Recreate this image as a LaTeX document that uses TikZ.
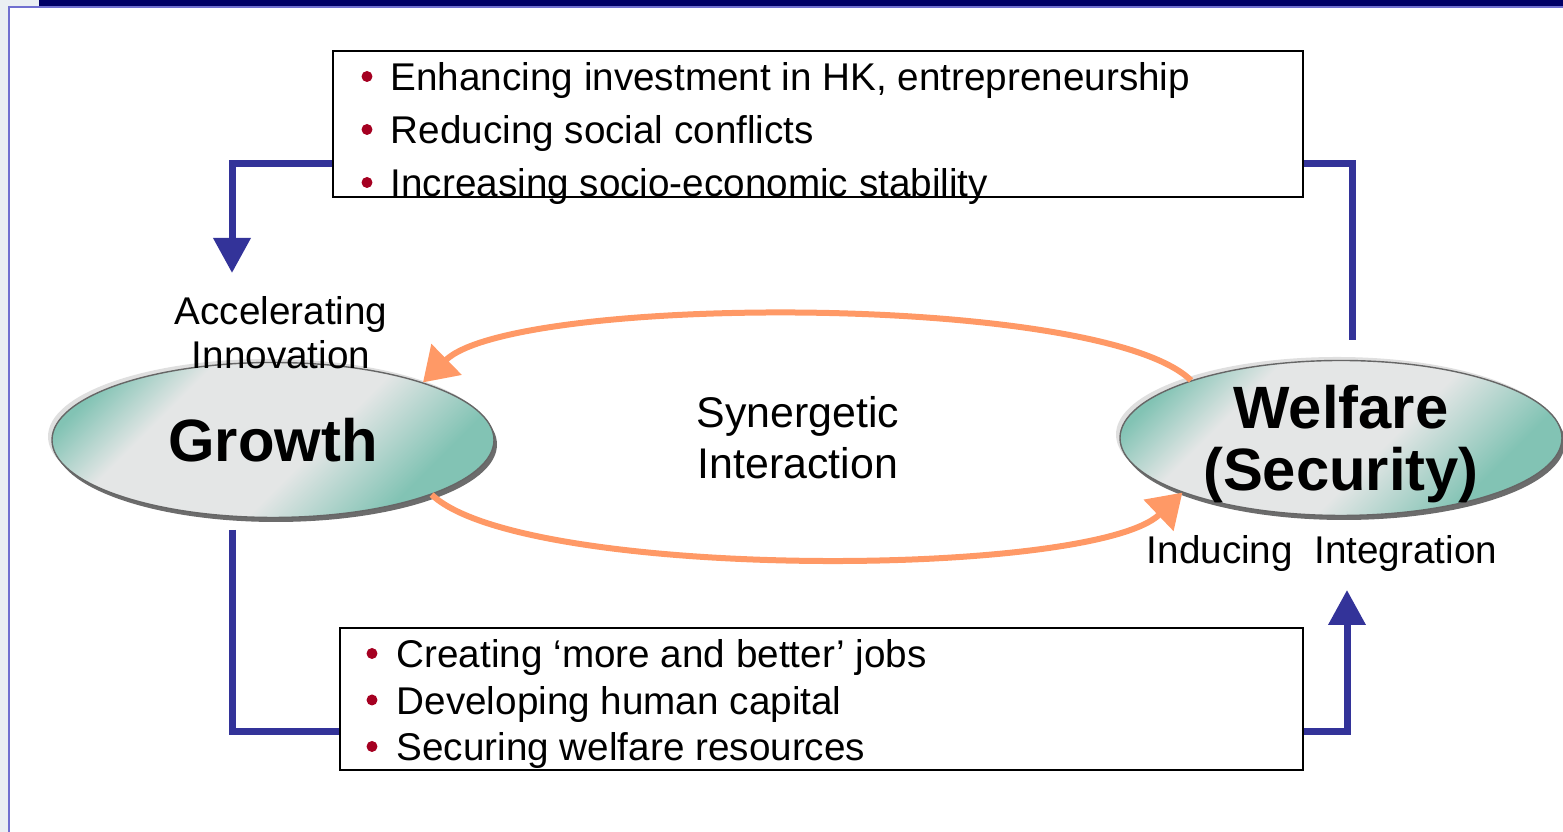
\documentclass[tikz,border=0pt]{standalone}
\usepackage{fontspec}
\setmainfont{Liberation Sans}
\usetikzlibrary{arrows.meta,shapes.geometric,shadows}

\definecolor{barnavy}{RGB}{0,0,102}
\definecolor{framelilac}{RGB}{112,112,208}
\definecolor{stripgray}{RGB}{234,239,243}
\definecolor{flowblue}{RGB}{51,51,153}
\definecolor{synorange}{RGB}{255,153,102}
\definecolor{bulletred}{RGB}{165,0,33}
\definecolor{ellteal}{RGB}{130,195,180}
\definecolor{ellgray}{RGB}{228,230,230}

\pgfdeclareverticalshading{glassy}{100bp}{color(0bp)=(ellteal); color(28bp)=(ellteal);
  color(44bp)=(ellgray); color(66bp)=(ellgray); color(77bp)=(ellteal); color(100bp)=(ellteal)}

\begin{document}
\begin{tikzpicture}[
    flow/.style={line width=0.07cm, flowblue},
    synergy/.style={line width=0.06cm, synorange, -{Triangle[length=0.33cm,width=0.42cm]}},
    hub/.style={ellipse, minimum width=4.42cm, minimum height=1.55cm, inner sep=0pt,
        text depth=0pt, draw=gray!80!black, shade, shading=glassy, shading angle=45,
        general shadow={fill=gray!25, shadow xshift=-0.04cm, shadow yshift=0.035cm},
        general shadow={fill=gray!85!black, shadow xshift=0.03cm, shadow yshift=-0.045cm},
        font=\fontsize{17}{17.5}\selectfont\bfseries, align=center},
    listbox/.style={draw=black, line width=0.8pt, inner sep=0pt},
    item/.style={anchor=base west, inner sep=0pt, font=\fontsize{11}{13}\selectfont},
    note/.style={align=center, inner sep=0pt, font=\fontsize{11}{12.5}\selectfont}
  ]
    \useasboundingbox (0,0) rectangle (15.63,8.32);
    \fill[stripgray] (0,0) rectangle (0.08,8.32);
    \fill[stripgray] (0,8.25) rectangle (0.39,8.32);
    \fill[barnavy] (0.39,8.26) rectangle (15.63,8.32);% bar along the top
    \draw[framelilac, line width=0.02cm] (0.09,0) -- (0.09,8.25) -- (15.63,8.25);

    % the two lists
    \node[listbox, minimum width=9.70cm, minimum height=1.46cm] (TopBox) at (8.18,7.08) {};
    \node[listbox, minimum width=9.63cm, minimum height=1.42cm] (BottomBox) at (8.215,1.33) {};
    \foreach \txt [count=\i] in {{Enhancing investment in HK, entrepreneurship},
        Reducing social conflicts, Increasing socio-economic stability}{
      \fill[bulletred] (3.67,{7.555-0.53*(\i-1)}) circle (0.055);
      \node[item] at (3.90,{7.41-0.53*(\i-1)}) {\txt};
    }
    \foreach \txt [count=\i] in {Creating ‘more and better’ jobs,
        Developing human capital, Securing welfare resources}{
      \fill[bulletred] (3.72,{1.785-0.465*(\i-1)}) circle (0.055);
      \node[item] at (3.96,{1.64-0.465*(\i-1)}) {\txt};
    }

    % the two poles
    \node[hub] (Growth) at (2.73,3.92) {Growth};
    \node[hub] (Welfare) at (13.41,3.94) {Welfare\\(Security)};

    \node[note, anchor=north] (Accel) at (2.81,5.36) {Accelerating\\Innovation};
    \node[note, anchor=north, font=\fontsize{12.2}{14.5}\selectfont] (Synergy)
        at (7.98,4.36) {Synergetic\\Interaction};
    \node[note, anchor=base] (Integr) at (13.22,2.68) {Inducing~~Integration};

    \coordinate (GrowthTip)   at (2.32,5.59);
    \coordinate (WelfareTop)  at (13.52,4.92);
    \coordinate (GrowthFoot)  at (2.32,3.02);
    \coordinate (WelfareFoot) at (13.47,2.42);
    \draw[flow, -{Triangle[length=0.35cm,width=0.36cm]}]
        ([yshift=0.35cm]TopBox.south west) -| (GrowthTip);
    \draw[flow] ([yshift=0.35cm]TopBox.south east) -| (WelfareTop);
    \draw[flow] (GrowthFoot) |- ([yshift=0.40cm]BottomBox.south west);
    \draw[flow, -{Triangle[length=0.35cm,width=0.36cm]}]
        ([yshift=0.40cm]BottomBox.south east) -| (WelfareFoot);

    % orange loop between the poles
    \draw[synergy] (Welfare.159) .. controls +(-0.9,0.88) and +(0.9,0.88) .. (Growth.21);
    \draw[synergy] (Growth.-19) .. controls +(0.9,-0.86) and +(-0.9,-0.86) .. (Welfare.199);
\end{tikzpicture}
\end{document}
